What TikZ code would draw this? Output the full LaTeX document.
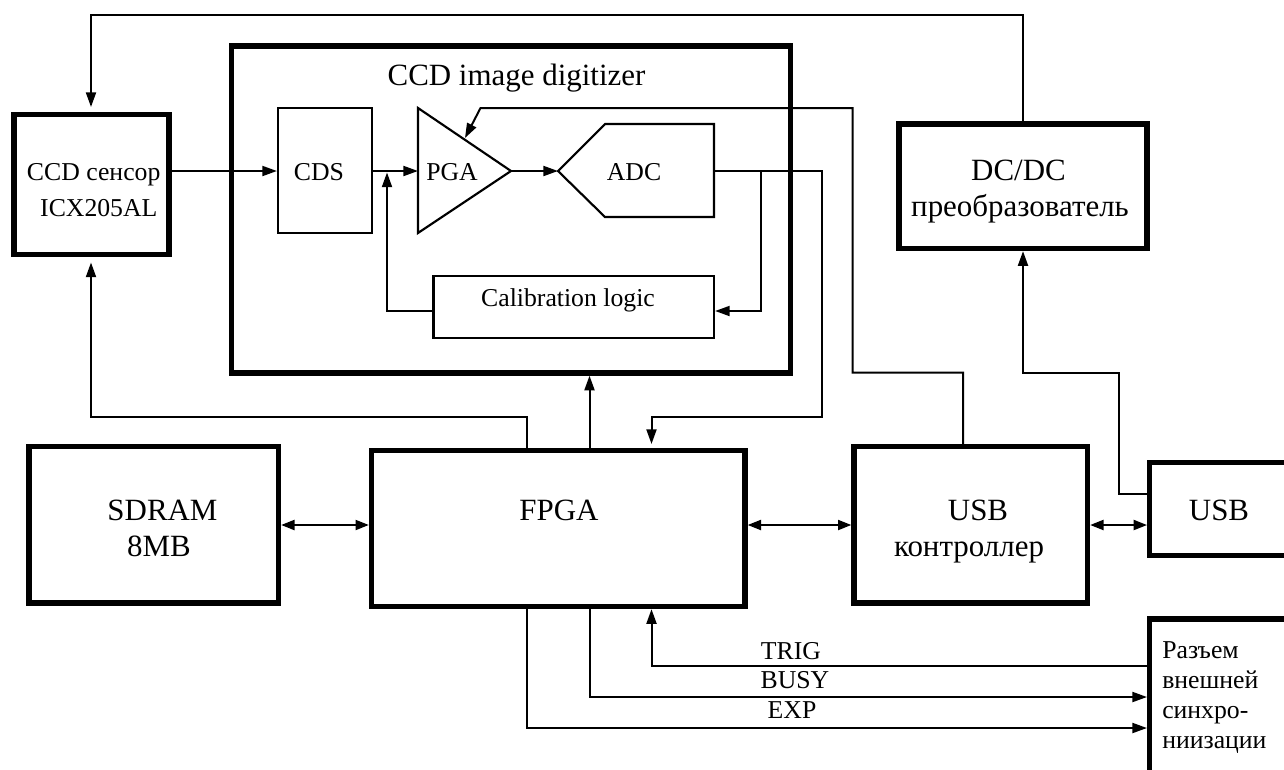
\documentclass[tikz,border=0pt]{standalone}
\usepackage{fontspec}
\setmainfont{Liberation Serif}
\usetikzlibrary{arrows.meta}
\tikzset{
  x=0.75pt,y=-0.75pt,
  thick box/.style={draw,line width=4pt,inner sep=0pt},
  thin box/.style={draw,line width=1.6pt,inner sep=0pt},
  wire/.style={draw,line width=1.5pt},
  arr/.style={wire,-{Triangle[length=11pt,width=7.5pt]}},
  biarr/.style={wire,{Triangle[length=10pt,width=7.5pt]}-{Triangle[length=10pt,width=7.5pt]}},
  big/.style={font=\fontsize{23.2pt}{27pt}\selectfont,anchor=base,inner sep=0pt},
  mid/.style={font=\fontsize{19.3pt}{24pt}\selectfont,anchor=base,inner sep=0pt},
  conn/.style={mid,anchor=base west},
}
\newcommand{\bx}[6]{\node[#2,minimum width={((#5)-(#3))*0.75pt},minimum height={((#6)-(#4))*0.75pt}] (#1) at ({((#3)+(#5))/2},{((#4)+(#6))/2}) {};}
\begin{document}
\begin{tikzpicture}
\useasboundingbox (0,0) rectangle (1284,769);
% boxes
\bx{ccd}{thick box}{14}{114.5}{169}{254.5}
\bx{dig}{thick box}{231.5}{46}{790.5}{373}
\bx{cds}{thin box}{278}{108}{372}{233}
\bx{cal}{thin box}{433.5}{276}{714}{338}
\bx{dc}{thick box}{899}{124}{1147}{248.5}
\bx{sdram}{thick box}{29}{446.5}{278.5}{603}
\bx{fpga}{thick box}{371.5}{450.5}{745}{606.5}
\bx{uc}{thick box}{854}{446.5}{1087.5}{603}
\path[thin box] (418,108) -- (418,233) -- (511,171) -- cycle;
\path[thin box] (558,171) -- (605,124) -- (714,124) -- (714,217) -- (605,217) -- cycle;
\path[thick box] (1290,462.5) -| (1149.5,555.5) -- (1290,555.5);
\path[thick box] (1290,619) -| (1149.5,775);
% named points
\coordinate (ccdTop) at (91,107);
\coordinate (ccdBot) at (91,262.5);
\coordinate (x1) at (527,0);
\coordinate (x2) at (589.5,0);
\coordinate (x3) at (651.5,0);
\coordinate (xd) at (1023,0);
\coordinate (xu) at (963,0);
\coordinate (y0) at (0,525);
\coordinate (yc) at (0,311);
\coordinate (pgaL) at (418,171);
\coordinate (pgaR) at (511,171);
\coordinate (adcL) at (558,171);
\coordinate (adcR) at (714,171);
\coordinate (jcal) at (387,172.5);
\coordinate (jadc) at (760.5,171);
\coordinate (pgaC) at (465,138);
\coordinate (fTop) at (651.5,444);
\coordinate (ubU) at (1147,494);
\coordinate (ubL) at (1147,525);
\coordinate (cnT) at (1147,666);
\coordinate (cnB) at (1147,697);
\coordinate (cnE) at (1147,728);
% wires
\path[arr] (xd |- dc.north) |- (91,15) -- (ccdTop);
\path[arr] (x1 |- fpga.north) |- (91,416.5) -- (ccdBot);
\path[arr] (x2 |- fpga.north) -- (x2 |- dig.south);
\path[arr] (ccd.east |- pgaL) -- (cds.west |- pgaL);
\path[arr] (cds.east |- pgaL) -- (pgaL);
\path[arr] (pgaR) -- (adcL);
\path[arr] (cal.west |- yc) -| (jcal);
\path[arr] (jadc) |- (cal.east |- yc);
\path[arr] (adcR) -- (821.5,171) -- (821.5,416.5) -| (fTop);
\path[arr] (xu |- uc.north) |- (852.5,372.5) -- (852.5,108) -- (480.5,108) -- (pgaC);
\path[arr] (ubU) -| (1119,372.5) -| (xd |- dc.south);
\path[biarr] (sdram.east |- y0) -- (fpga.west |- y0);
\path[biarr] (fpga.east |- y0) -- (uc.west |- y0);
\path[biarr] (uc.east |- y0) -- (ubL);
\path[arr] (cnT) -| (x3 |- fpga.south);
\path[arr] (x2 |- fpga.south) |- (cnB);
\path[arr] (x1 |- fpga.south) |- (cnE);
% texts
\node[big] (tDig) at (516.5,85) {CCD image digitizer};
\node[mid] (tCcd) at (93.7,180) {CCD сенсор};
\node[mid] (tIcx) at (98.8,216.5) {ICX205AL};
\node[mid] (tCds) at (319,180) {CDS};
\node[mid] (tPga) at (452,180) {PGA};
\node[mid] (tAdc) at (634,180) {ADC};
\node[mid] (tCal) at (568,306.5) {Calibration logic};
\node[big] (tDc) at (1018.5,180) {DC/DC};
\node[big] (tDc2) at (1020,216) {преобразователь};
\node[big] (tS) at (162.5,520) {SDRAM};
\node[big] (tS2) at (159,556) {8MB};
\node[big] (tF) at (559,520) {FPGA};
\node[big] (tU) at (978,520) {USB};
\node[big] (tUc) at (969,556) {контроллер};
\node[big] (tU2) at (1219,520) {USB};
\node[mid] (tT) at (791,659) {TRIG};
\node[mid] (tB) at (795,688.7) {BUSY};
\node[mid] (tE) at (792,718) {EXP};
\node[conn] (c1) at (1162,658) {Разъем};
\node[conn] (c2) at (1162,688) {внешней};
\node[conn] (c3) at (1162,718) {синхро-};
\node[conn] (c4) at (1162,748) {ниизации};
\end{tikzpicture}
\end{document}
